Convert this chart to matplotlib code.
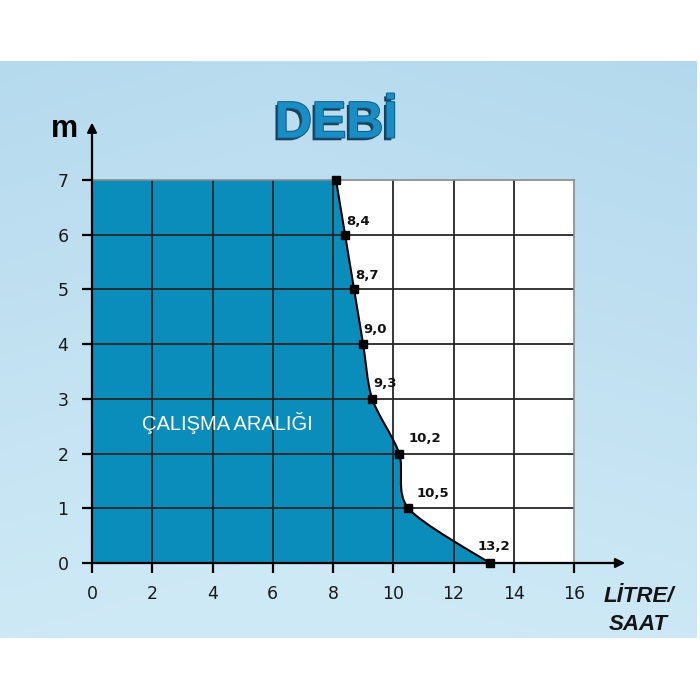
import numpy as np
import matplotlib.pyplot as plt
import matplotlib.patheffects as pe
from matplotlib.path import Path
from matplotlib.patches import PathPatch

# debi curve points (litre/saat vs m)
flow = [8.1, 8.4, 8.7, 9.0, 9.3, 10.2, 10.5, 13.2]
head = [7, 6, 5, 4, 3, 2, 1, 0]
point_labels = ["", "8,4", "8,7", "9,0", "9,3", "10,2", "10,5", "13,2"]
label_offsets = [(0, 0), (13, 13), (13, 14), (12, 15), (13, 15), (26, 15), (25, 15), (4, 17)]
x_ticks = [0, 2, 4, 6, 8, 10, 12, 14, 16]
y_ticks = [0, 1, 2, 3, 4, 5, 6, 7]

fill_col = "#0a8dba"
grid_col = "#262626"

fig = plt.figure(figsize=(7, 7), dpi=100)

# light blue gradient panel behind everything
bg = fig.add_axes([0, 62 / 700, 697 / 700, 577 / 700])
gy, gx = np.mgrid[0:1:200j, 0:1:200j]
top = np.array([0.69, 0.84, 0.925])
low = np.array([0.81, 0.915, 0.965])
t = np.clip(gy * 0.8 + (1 - np.abs(gx - 0.4)) * 0.3, 0, 1)[..., None]
img = top * (1 - t) + low * t
bg.imshow(img, origin="upper", aspect="auto", extent=[0, 1, 0, 1])
bg.set_axis_off()

ax = fig.add_axes([92 / 700, 137 / 700, 482 / 700, 383 / 700])
ax.set_facecolor("white")
ax.set_xlim(0, 16)
ax.set_ylim(0, 7)

# smooth path through the points (catmull-rom -> bezier)
pts = np.column_stack([flow, head]).astype(float)
verts = [tuple(pts[0])]
codes = [Path.MOVETO]
for i in range(len(pts) - 1):
    p0 = pts[max(i - 1, 0)]
    p1 = pts[i]
    p2 = pts[i + 1]
    p3 = pts[min(i + 2, len(pts) - 1)]
    c1 = p1 + (p2 - p0) / 7
    c2 = p2 - (p3 - p1) / 7
    verts += [tuple(c1), tuple(c2), tuple(p2)]
    codes += [Path.CURVE4] * 3
curve = Path(verts, codes)

area_verts = verts + [(0, 0), (0, 7), verts[0]]
area_codes = codes + [Path.LINETO, Path.LINETO, Path.CLOSEPOLY]
ax.add_patch(PathPatch(Path(area_verts, area_codes), facecolor=fill_col, edgecolor="none", zorder=1))

for x in x_ticks[1:-1]:
    ax.axvline(x, color=grid_col, lw=1.3, zorder=2)
for y in y_ticks[1:-1]:
    ax.axhline(y, color=grid_col, lw=1.3, zorder=2)

ax.add_patch(PathPatch(curve, facecolor="none", edgecolor="black", lw=1.5, zorder=3))
ax.plot(flow, head, "s", color="black", ms=6, zorder=4, clip_on=False)

for x, y, lab, off in zip(flow, head, point_labels, label_offsets):
    if lab:
        ax.annotate(lab, (x, y), xytext=off, textcoords="offset pixels",
                    ha="center", va="center", fontsize=9.5, fontweight="bold",
                    family="DejaVu Sans", color="#111111", zorder=5)

ax.text(4.5, 2.55, "ÇALIŞMA ARALIĞI", color="white", fontsize=14.5,
        family="Liberation Sans", ha="center", va="center", zorder=5)

for s in ["top", "right"]:
    ax.spines[s].set_color("#8a8a8a")
    ax.spines[s].set_linewidth(1.2)
ax.spines["left"].set_visible(False)
ax.spines["bottom"].set_visible(False)

# axis arrows
ax.annotate("", xy=(0, 8.05), xytext=(0, 0), xycoords="data",
            arrowprops=dict(arrowstyle="-|>", color="black", lw=1.6, mutation_scale=14,
                            shrinkA=0, shrinkB=0), annotation_clip=False, zorder=6)
ax.annotate("", xy=(17.7, 0), xytext=(0, 0), xycoords="data",
            arrowprops=dict(arrowstyle="-|>", color="black", lw=1.6, mutation_scale=14,
                            shrinkA=0, shrinkB=0), annotation_clip=False, zorder=6)

ax.set_xticks(x_ticks)
ax.set_yticks(y_ticks)
ax.tick_params(axis="both", length=7, width=1.6, color="black", labelsize=12.5)
ax.tick_params(axis="x", pad=9)
ax.tick_params(axis="y", pad=10)
for lab in ax.get_xticklabels() + ax.get_yticklabels():
    lab.set_family("DejaVu Sans")
    lab.set_color("#1a1a1a")

fig.text(64 / 700, 1 - 129 / 700, "m", fontsize=22, fontweight="bold",
         family="Liberation Sans", ha="center", va="center")
fig.text(639 / 700, 1 - 596 / 700, "LİTRE/", fontsize=16, fontstyle="italic",
         fontweight="bold", family="Liberation Sans", color="#151515",
         ha="center", va="center")
fig.text(638 / 700, 1 - 625 / 700, "SAAT", fontsize=16, fontstyle="italic",
         fontweight="bold", family="Liberation Sans", color="#151515",
         ha="center", va="center")

fig.text(336 / 700, 1 - 124 / 700, "DEBİ", fontsize=37, fontweight="bold",
         family="Liberation Sans", color="#1a8ec4", ha="center", va="center",
         path_effects=[pe.withSimplePatchShadow(offset=(-2, -2), shadow_rgbFace="#082e48", alpha=0.9),
                       pe.withStroke(linewidth=1.5, foreground="#0e5f88")])

fig.savefig("out.png", dpi=100)
